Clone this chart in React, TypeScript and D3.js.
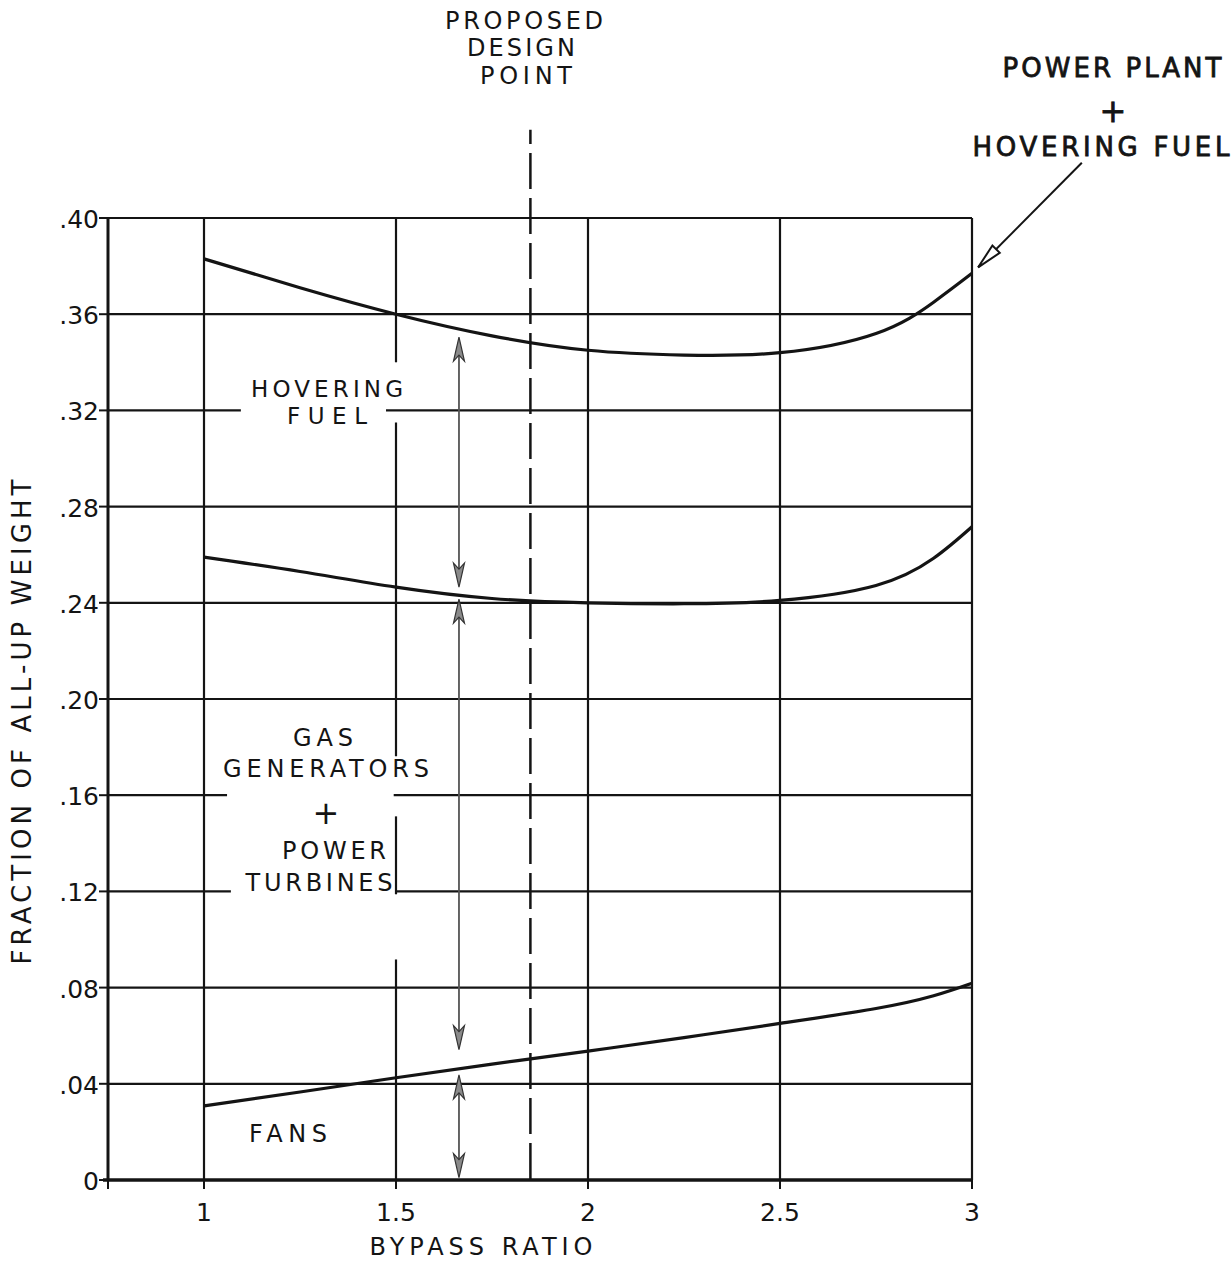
import React from 'react';
import * as d3 from 'd3';

// bypass ratio sample points
const bypass = [1.0, 1.25, 1.5, 1.75, 2.0, 2.25, 2.5, 2.75, 2.9, 3.0];
// power plant + hovering fuel (top curve)
const totalWeight = [0.383, 0.371, 0.36, 0.351, 0.345, 0.343, 0.344, 0.352, 0.365, 0.377];
// gas generators + power turbines (middle curve)
const gasGenWeight = [0.259, 0.253, 0.2465, 0.2418, 0.24, 0.2396, 0.241, 0.2472, 0.2585, 0.2716];
// fans (bottom curve)
const fansWeight = [0.0308, 0.0366, 0.0425, 0.0482, 0.0536, 0.0592, 0.0651, 0.0713, 0.0766, 0.0818];

const xTicks = [1, 1.5, 2, 2.5, 3];
const xTickLabels = ['1', '1.5', '2', '2.5', '3'];
const yTicks = [0, 0.04, 0.08, 0.12, 0.16, 0.2, 0.24, 0.28, 0.32, 0.36, 0.4];
const yTickLabels = ['0', '.04', '.08', '.12', '.16', '.20', '.24', '.28', '.32', '.36', '.40'];

const designPoint = 1.85;

// double arrows at bypass 1.66: [from, to]
const arrowX = 1.664;
const bandArrows = [
  [0.3505, 0.2465],
  [0.2415, 0.0542],
  [0.0437, 0.001],
];

// gaps left in the grid around the lettering
const hGaps = [
  { y: 0.32, x0: 1.096, x1: 1.474 },
  { y: 0.16, x0: 1.06, x1: 1.494 },
  { y: 0.12, x0: 1.07, x1: 1.5 },
];
const vGaps = [
  { x: 1.5, y0: 0.315, y1: 0.34 },
  { x: 1.5, y0: 0.1512, y1: 0.1762 },
  { x: 1.5, y0: 0.0917, y1: 0.1188 },
];

const W = 1232;
const H = 1262;
const FONT = '"DejaVu Sans", sans-serif';
const INK = '#141414';

const x = d3.scaleLinear().domain([0.75, 3]).range([108, 972]);
const y = d3.scaleLinear().domain([0, 0.4]).range([1180, 218]);

const line = d3
  .line<[number, number]>()
  .x(d => x(d[0]))
  .y(d => y(d[1]))
  .curve(d3.curveNatural);

function segments(a: number, b: number, gaps: [number, number][]) {
  const out: [number, number][] = [];
  let start = a;
  gaps
    .slice()
    .sort((p, q) => p[0] - q[0])
    .forEach(([g0, g1]) => {
      if (g0 > start) out.push([start, g0]);
      start = Math.max(start, g1);
    });
  if (start < b) out.push([start, b]);
  return out;
}

function ArrowHead({ px, py, dir }: { px: number; py: number; dir: 1 | -1 }) {
  // dir -1 points up, 1 points down; tip at (px, py)
  const len = 24;
  const half = 5.5;
  const back = py - dir * len;
  const d = `M${px},${py} L${px - half},${back} L${px},${back + dir * 6} L${px + half},${back} Z`;
  return <path d={d} fill="#8a8a8a" stroke="#333" strokeWidth={1.2} />;
}

const Label = ({ tx, ty, text, len, size = 24, anchor = 'middle', weight = 400 }: any) => (
  <text
    x={tx}
    y={ty}
    fontFamily={FONT}
    fontSize={size}
    fontWeight={weight}
    textAnchor={anchor}
    fill={INK}
    textLength={len}
    lengthAdjust="spacing"
  >
    {text}
  </text>
);

export default function App() {
  const series = [totalWeight, gasGenWeight, fansWeight].map(vals =>
    bypass.map((b, i) => [b, vals[i]] as [number, number])
  );

  const hLines = yTicks.filter(v => v > 0);
  const vLines = xTicks;

  return (
    <svg
      width={W}
      height={H}
      style={{ position: 'absolute', left: 0, top: 0, background: '#fff' }}
    >
      <rect width={W} height={H} fill="#fff" />

      {/* horizontal grid */}
      {hLines.map(v =>
        segments(
          0.75,
          3,
          hGaps.filter(g => g.y === v).map(g => [g.x0, g.x1] as [number, number])
        ).map(([a, b], k) => (
          <line
            key={`h${v}-${k}`}
            x1={x(a)}
            x2={x(b)}
            y1={y(v)}
            y2={y(v)}
            stroke={INK}
            strokeWidth={2.2}
          />
        ))
      )}

      {/* vertical grid */}
      {vLines.map(v =>
        segments(
          0,
          0.4,
          vGaps.filter(g => g.x === v).map(g => [g.y0, g.y1] as [number, number])
        ).map(([a, b], k) => (
          <line
            key={`v${v}-${k}`}
            x1={x(v)}
            x2={x(v)}
            y1={y(a)}
            y2={y(b)}
            stroke={INK}
            strokeWidth={2.2}
          />
        ))
      )}

      {/* left axis and bottom axis */}
      <line x1={x(0.75)} x2={x(0.75)} y1={y(0.4)} y2={y(0)} stroke={INK} strokeWidth={3} />
      <line x1={x(0.75) - 5} x2={x(3)} y1={y(0)} y2={y(0)} stroke={INK} strokeWidth={3.5} />

      {/* y ticks */}
      {yTicks.map((v, i) => (
        <g key={`yt${v}`}>
          <line x1={x(0.75) - 9} x2={x(0.75)} y1={y(v)} y2={y(v)} stroke={INK} strokeWidth={2} />
          <text
            x={x(0.75) - 9}
            y={y(v) + 10}
            fontFamily={FONT}
            fontSize={25}
            textAnchor="end"
            fill={INK}
          >
            {yTickLabels[i]}
          </text>
        </g>
      ))}

      {/* x ticks */}
      {[0.75, ...xTicks].map(v => (
        <line key={`xt${v}`} x1={x(v)} x2={x(v)} y1={y(0)} y2={y(0) + 9} stroke={INK} strokeWidth={2} />
      ))}
      {xTicks.map((v, i) => (
        <text
          key={`xl${v}`}
          x={x(v)}
          y={y(0) + 41}
          fontFamily={FONT}
          fontSize={25}
          textAnchor="middle"
          fill={INK}
        >
          {xTickLabels[i]}
        </text>
      ))}

      {/* proposed design point */}
      <line
        x1={x(designPoint)}
        x2={x(designPoint)}
        y1={y(0)}
        y2={y(0.4367)}
        stroke={INK}
        strokeWidth={2.5}
        strokeDasharray="36 9"
        strokeDashoffset={-1}
      />

      {/* curves */}
      {series.map((s, i) => (
        <path key={`s${i}`} d={line(s) || ''} fill="none" stroke={INK} strokeWidth={3.2} />
      ))}

      {/* double arrows */}
      {bandArrows.map(([a, b], i) => (
        <g key={`ar${i}`}>
          <line x1={x(arrowX)} x2={x(arrowX)} y1={y(a) + 6} y2={y(b) - 6} stroke="#555" strokeWidth={1.8} />
          <ArrowHead px={x(arrowX)} py={y(a)} dir={-1} />
          <ArrowHead px={x(arrowX)} py={y(b)} dir={1} />
        </g>
      ))}

      {/* band labels */}
      <Label tx={327} ty={397} text="HOVERING" len={152} size={23} />
      <Label tx={327} ty={424} text="FUEL" len={80} size={23} />
      <Label tx={323} ty={746} text="GAS" len={60} />
      <Label tx={326} ty={777} text="GENERATORS" len={206} />
      <Label tx={326} ty={824} text="+" size={32} />
      <Label tx={334} ty={859} text="POWER" len={104} />
      <Label tx={319} ty={891} text="TURBINES" len={147} />
      <Label tx={288} ty={1142} text="FANS" len={78} />

      {/* design point label */}
      <Label tx={524} ty={29} text="PROPOSED" len={158} />
      <Label tx={521} ty={56} text="DESIGN" len={108} />
      <Label tx={526} ty={84} text="POINT" len={92} />

      {/* power plant annotation */}
      <g stroke={INK} strokeWidth={0.8}>
        <Label tx={1112} ty={77} text="POWER PLANT" len={219} size={26} />
        <Label tx={1113} ty={122} text="+" size={32} />
        <Label tx={1101} ty={156} text="HOVERING FUEL" len={257} size={26} />
      </g>
      <line
        x1={x(3.286)}
        y1={y(0.423)}
        x2={x(3.016)}
        y2={y(0.3795)}
        stroke={INK}
        strokeWidth={2}
      />
      {(() => {
        const tx = x(3.016);
        const ty = y(0.3795);
        const ang = Math.atan2(y(0.423) - ty, x(3.286) - tx);
        const len = 26;
        const spread = 0.2;
        const p1 = [tx + len * Math.cos(ang - spread), ty + len * Math.sin(ang - spread)];
        const p2 = [tx + len * Math.cos(ang + spread), ty + len * Math.sin(ang + spread)];
        return (
          <path
            d={`M${tx},${ty} L${p1[0]},${p1[1]} L${p2[0]},${p2[1]} Z`}
            fill="#fff"
            stroke={INK}
            strokeWidth={2}
            strokeLinejoin="miter"
          />
        );
      })()}

      {/* axis titles */}
      <Label tx={481} ty={1255} text="BYPASS RATIO" len={223} />
      <g transform={`translate(31, 722) rotate(-90)`}>
        <Label tx={0} ty={0} text="FRACTION OF ALL-UP WEIGHT" len={485} size={26} />
      </g>
    </svg>
  );
}
